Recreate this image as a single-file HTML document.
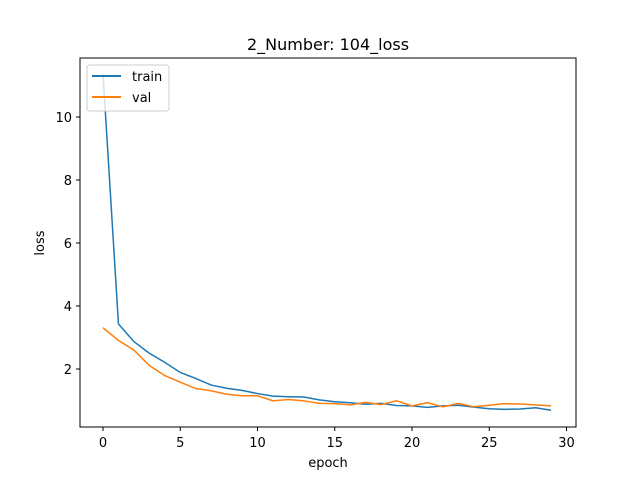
<!DOCTYPE html>
<html><head><meta charset="utf-8"><style>
body{margin:0;background:#fff}
svg text{font-family:"DejaVu Sans","Liberation Sans",sans-serif;fill:#000}
</style></head><body>
<svg id="chart" width="640" height="480" xmlns="http://www.w3.org/2000/svg">
<rect width="640" height="480" fill="#fff"/>
<text x="328" y="50" font-size="16" text-anchor="middle">2_Number: 104_loss</text>
<g id="plot"></g>
<rect x="80" y="58" width="496" height="369" fill="none" stroke="#000" stroke-width="1"/>
<text x="328" y="467" font-size="13" text-anchor="middle">epoch</text>
<text x="44" y="243" font-size="13" text-anchor="middle" transform="rotate(-90 44 243)">loss</text>
<g>
<rect x="87" y="65" width="82" height="46" rx="3" fill="#fff" fill-opacity="0.8" stroke="#ccc"/>
<line x1="92" y1="76" x2="121" y2="76" stroke="#1f77b4" stroke-width="2"/>
<text x="132" y="81" font-size="13">train</text>
<line x1="92" y1="97" x2="121" y2="97" stroke="#ff7f0e" stroke-width="2"/>
<text x="132" y="102" font-size="13">val</text>
</g>
</svg>
<script>
const train = [11.37,3.43,2.87,2.50,2.21,1.89,1.70,1.49,1.39,1.32,1.22,1.14,1.12,1.11,1.02,0.96,0.93,0.88,0.91,0.84,0.83,0.78,0.83,0.85,0.79,0.74,0.72,0.73,0.77,0.69];
const val = [3.31,2.91,2.60,2.11,1.79,1.58,1.38,1.31,1.20,1.15,1.15,0.99,1.03,0.99,0.91,0.90,0.86,0.94,0.87,0.99,0.83,0.93,0.80,0.91,0.80,0.85,0.90,0.89,0.86,0.83];
const xTicks = [0,5,10,15,20,25,30];
const yTicks = [2,4,6,8,10];
const NS = "http://www.w3.org/2000/svg";
const X0 = 103, XS = 15.45, Y0 = 432, YS = 31.5;
function xp(v){return X0 + v*XS;}
function yp(v){return Y0 - v*YS;}
const g = document.getElementById("plot");
xTicks.forEach(t=>{
  const l=document.createElementNS(NS,"line");
  
  
  l.setAttribute("x1",xp(t));l.setAttribute("x2",xp(t));l.setAttribute("y1",427);l.setAttribute("y2",431);l.setAttribute("stroke","#000");
  g.appendChild(l);
  const tx=document.createElementNS(NS,"text");
  
  
  tx.setAttribute("x",xp(t));tx.setAttribute("y",447);tx.setAttribute("font-size","13");tx.setAttribute("text-anchor","middle");
  tx.textContent=t;g.appendChild(tx);
});
yTicks.forEach(t=>{
  const l=document.createElementNS(NS,"line");
  
  
  l.setAttribute("x1",76);l.setAttribute("x2",80);l.setAttribute("y1",yp(t));l.setAttribute("y2",yp(t));l.setAttribute("stroke","#000");
  g.appendChild(l);
  const tx=document.createElementNS(NS,"text");
  
  
  tx.setAttribute("x",72);tx.setAttribute("y",yp(t)+5);tx.setAttribute("font-size","13");tx.setAttribute("text-anchor","end");
  tx.textContent=t;g.appendChild(tx);
});
function line(arr,color,name){
  const p=document.createElementNS(NS,"polyline");
  
  
  p.setAttribute("points",arr.map((v,i)=>xp(i)+","+yp(v)).join(" "));
  p.setAttribute("fill","none");p.setAttribute("stroke",color);p.setAttribute("stroke-width","1.5");
  g.appendChild(p);
}
line(train,"#1f77b4","train-line");
line(val,"#ff7f0e","val-line");
</script>
</body></html>
